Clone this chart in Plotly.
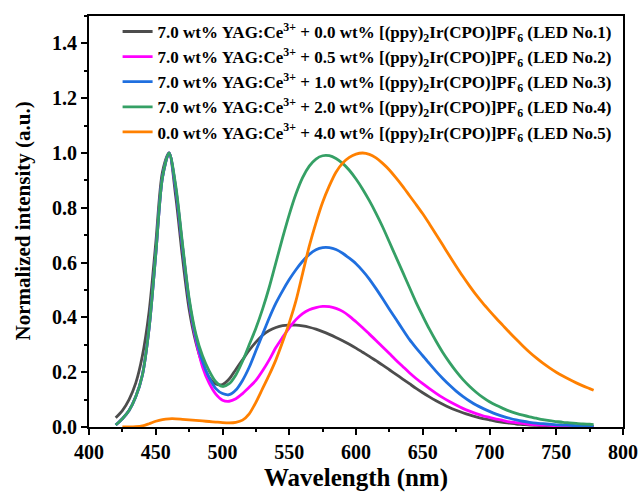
import plotly.graph_objects as go

wavelength = list(range(420, 780, 5)) + [778]

led1 = [0.034, 0.06, 0.10, 0.16, 0.26, 0.42, 0.67, 0.93, 1.00, 0.84, 0.62, 0.43, 0.31, 0.23, 0.18, 0.157,
        0.155, 0.175, 0.21, 0.245, 0.28, 0.31, 0.335, 0.352, 0.363, 0.37, 0.372, 0.372, 0.369, 0.364, 0.357, 0.348,
        0.338, 0.327, 0.315, 0.302, 0.288, 0.273, 0.258, 0.242, 0.226, 0.209, 0.192, 0.175, 0.158, 0.141, 0.125, 0.110,
        0.096, 0.083, 0.071, 0.061, 0.052, 0.044, 0.037, 0.031, 0.026, 0.021, 0.017, 0.014, 0.011, 0.009, 0.007, 0.006,
        0.005, 0.004, 0.003, 0.003, 0.002, 0.002, 0.002, 0.002, 0.002]

led2 = [0.007, 0.03, 0.06, 0.11, 0.19, 0.36, 0.63, 0.91, 1.00, 0.87, 0.66, 0.46, 0.32, 0.22, 0.16, 0.12,
        0.098, 0.094, 0.103, 0.122, 0.145, 0.17, 0.205, 0.245, 0.29, 0.327, 0.362, 0.392, 0.414, 0.428, 0.436, 0.44,
        0.439, 0.433, 0.422, 0.405, 0.384, 0.362, 0.339, 0.316, 0.292, 0.268, 0.244, 0.221, 0.198, 0.177, 0.158, 0.14,
        0.123, 0.107, 0.093, 0.08, 0.068, 0.058, 0.049, 0.041, 0.035, 0.029, 0.024, 0.019, 0.016, 0.013, 0.01, 0.008,
        0.007, 0.006, 0.005, 0.004, 0.003, 0.003, 0.002, 0.002, 0.002]

led3 = [0.007, 0.03, 0.06, 0.11, 0.19, 0.36, 0.63, 0.91, 1.00, 0.87, 0.66, 0.46, 0.33, 0.24, 0.18, 0.14,
        0.122, 0.118, 0.135, 0.17, 0.218, 0.278, 0.338, 0.398, 0.452, 0.497, 0.538, 0.574, 0.605, 0.63, 0.647, 0.655,
        0.655, 0.648, 0.634, 0.616, 0.596, 0.57, 0.54, 0.505, 0.468, 0.43, 0.393, 0.356, 0.32, 0.289, 0.26, 0.231,
        0.203, 0.177, 0.153, 0.131, 0.112, 0.095, 0.08, 0.068, 0.057, 0.047, 0.039, 0.032, 0.026, 0.021, 0.017, 0.014,
        0.012, 0.01, 0.008, 0.007, 0.006, 0.005, 0.004, 0.003, 0.003]

led4 = [0.007, 0.03, 0.06, 0.11, 0.19, 0.36, 0.63, 0.91, 1.00, 0.88, 0.67, 0.47, 0.34, 0.26, 0.205, 0.165,
        0.148, 0.158, 0.19, 0.24, 0.30, 0.36, 0.43, 0.51, 0.60, 0.69, 0.775, 0.85, 0.91, 0.952, 0.978, 0.99,
        0.99, 0.98, 0.962, 0.937, 0.905, 0.868, 0.826, 0.78, 0.73, 0.675, 0.62, 0.565, 0.51, 0.455, 0.405, 0.357,
        0.313, 0.272, 0.236, 0.203, 0.174, 0.149, 0.127, 0.108, 0.092, 0.079, 0.068, 0.058, 0.05, 0.043, 0.037, 0.032,
        0.027, 0.023, 0.02, 0.017, 0.015, 0.013, 0.011, 0.01, 0.009]

led5 = [None, 0.0, 0.0, 0.001, 0.004, 0.012, 0.021, 0.027, 0.03, 0.03, 0.028, 0.026, 0.024, 0.022, 0.02, 0.018,
        0.016, 0.015, 0.017, 0.025, 0.048, 0.09, 0.14, 0.19, 0.245, 0.31, 0.38, 0.46, 0.56, 0.66, 0.745, 0.82,
        0.88, 0.93, 0.963, 0.984, 0.996, 1.0, 0.995, 0.982, 0.962, 0.938, 0.909, 0.878, 0.845, 0.812, 0.778, 0.741,
        0.703, 0.664, 0.625, 0.587, 0.55, 0.515, 0.482, 0.452, 0.424, 0.397, 0.371, 0.345, 0.32, 0.296, 0.273, 0.252,
        0.233, 0.216, 0.2, 0.186, 0.173, 0.161, 0.15, 0.14, 0.134]

names = [
    "7.0 wt% YAG:Ce<sup>3+</sup> + 0.0 wt% [(ppy)<sub>2</sub>Ir(CPO)]PF<sub>6</sub> (LED No.1)",
    "7.0 wt% YAG:Ce<sup>3+</sup> + 0.5 wt% [(ppy)<sub>2</sub>Ir(CPO)]PF<sub>6</sub> (LED No.2)",
    "7.0 wt% YAG:Ce<sup>3+</sup> + 1.0 wt% [(ppy)<sub>2</sub>Ir(CPO)]PF<sub>6</sub> (LED No.3)",
    "7.0 wt% YAG:Ce<sup>3+</sup> + 2.0 wt% [(ppy)<sub>2</sub>Ir(CPO)]PF<sub>6</sub> (LED No.4)",
    "0.0 wt% YAG:Ce<sup>3+</sup> + 4.0 wt% [(ppy)<sub>2</sub>Ir(CPO)]PF<sub>6</sub> (LED No.5)",
]
colors = ["#4d4d4d", "#ff00ff", "#1f6fdf", "#35a065", "#ff8000"]
series = [led1, led2, led3, led4, led5]

font = "Liberation Serif"

fig = go.Figure()
for name, col, ys in zip(names, colors, series):
    fig.add_trace(go.Scatter(x=wavelength, y=ys, mode="lines", name="<b>" + name + "</b>",
                             line=dict(color=col, width=2.8, shape="spline", smoothing=0.8)))

axis_common = dict(showline=True, linecolor="black", linewidth=2, mirror=True,
                   ticks="outside", tickcolor="black", tickwidth=2, ticklen=6,
                   showgrid=False, zeroline=False, automargin=False,
                   tickfont=dict(family=font, size=20, color="black"))

fig.update_layout(
    width=638, height=492,
    margin=dict(l=89, r=15, t=16, b=65),
    plot_bgcolor="white", paper_bgcolor="white",
    font=dict(family=font, color="black"),
    xaxis=dict(range=[400, 800], dtick=50, tick0=400,
               tickprefix="<b>", ticksuffix="</b>",
               minor=dict(ticks="outside", ticklen=3, tickwidth=2, tickcolor="black", dtick=25),
               **axis_common),
    yaxis=dict(range=[0, 1.5], dtick=0.2, tick0=0, tickformat=".1f",
               tickprefix="<b>", ticksuffix="</b>",
               minor=dict(ticks="outside", ticklen=3, tickwidth=2, tickcolor="black", dtick=0.1),
               **axis_common),
    annotations=[
        dict(text="<b>Normalized intensity (a.u.)</b>", xref="paper", yref="paper",
             x=(22 - 89) / 534, y=0.5, xanchor="center", yanchor="middle",
             textangle=-90, showarrow=False, font=dict(family=font, size=21, color="black")),
        dict(text="<b>Wavelength (nm)</b>", xref="paper", yref="paper",
             x=0.5, y=(427 - 478) / 411, xanchor="center", yanchor="middle",
             showarrow=False, font=dict(family=font, size=25, color="black")),
    ],
    legend=dict(x=0.988, y=1.005, xanchor="right", yanchor="top", bgcolor="rgba(0,0,0,0)",
                font=dict(family=font, size=17, color="black"), itemwidth=30),
)

fig.write_html("out.html")
